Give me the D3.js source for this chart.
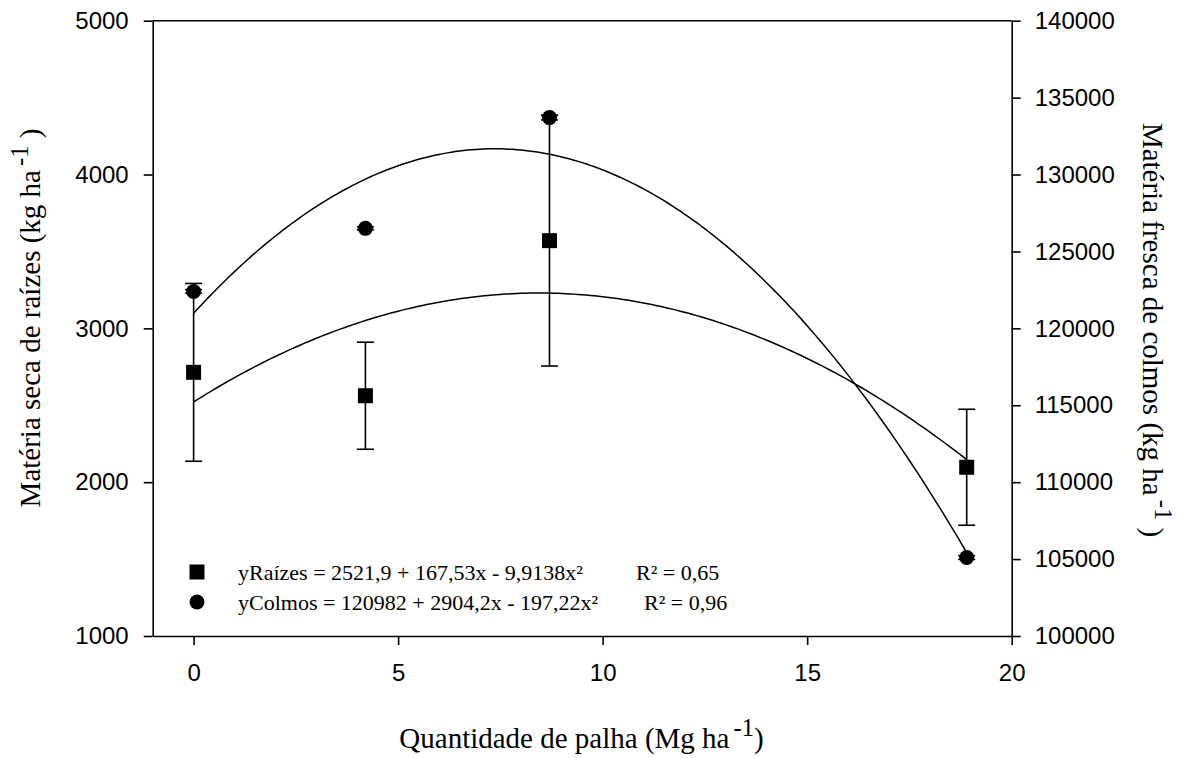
<!DOCTYPE html>
<html><head><meta charset="utf-8">
<script src="https://cdn.jsdelivr.net/npm/d3@7"></script>
<style>
html,body{margin:0;padding:0;background:#fff;}
svg{display:block;}
.tick text{font-family:"Liberation Sans",Arial,sans-serif;font-size:24px;fill:#000;}
.ttl{font-family:"Liberation Serif","Times New Roman",serif;fill:#000;}
</style></head>
<body>
<script>
// ---- data ----
const palha = [0, 4.2, 8.7, 18.9];
const raizes = [2714, 2562, 3570, 2097];
const raizesErr = [578, 348, 815, 377];
const colmos = [122400, 126500, 133700, 105100];
const colmosErr = [120, 100, 150, 120];
const coefRaizes = [2521.9, 167.53, -9.9138];
const coefColmos = [120982, 2904.2, -197.22];
const xTicks = [0, 5, 10, 15, 20];
const yLeftTicks = [1000, 2000, 3000, 4000, 5000];
const yRightTicks = [100000, 105000, 110000, 115000, 120000, 125000, 130000, 135000, 140000];
const legendRows = [
  {sym: "square", eq: "yRaízes = 2521,9 + 167,53x - 9,9138x²", r2: "R² = 0,65"},
  {sym: "circle", eq: "yColmos = 120982 + 2904,2x - 197,22x²", r2: "R² = 0,96"}
];

const W = 1191, H = 758;
const L = 152.7, R = 1011.7, T = 20.7, B = 636;
const svg = d3.select("body").append("svg").attr("width", W).attr("height", H);

const x = d3.scaleLinear().domain([-1, 20]).range([L, R]);
const yL = d3.scaleLinear().domain([1000, 5000]).range([B, T]);
const yR = d3.scaleLinear().domain([100000, 140000]).range([B, T]);

const stroke = "#000";
// axes
const ax = svg.append("g").attr("transform", `translate(0,${B})`)
  .call(d3.axisBottom(x).tickValues(xTicks).tickSize(9).tickSizeOuter(0).tickPadding(19).tickFormat(d3.format("d")));
const ayl = svg.append("g").attr("transform", `translate(${L},0)`)
  .call(d3.axisLeft(yL).tickValues(yLeftTicks).tickSize(9).tickSizeOuter(0).tickPadding(15).tickFormat(d3.format("d")));
const ayr = svg.append("g").attr("transform", `translate(${R},0)`)
  .call(d3.axisRight(yR).tickValues(yRightTicks).tickSize(9).tickSizeOuter(0).tickPadding(14).tickFormat(d3.format("d")));
[ax, ayl, ayr].forEach(g => {
  g.select(".domain").attr("stroke", stroke).attr("stroke-width", 1.6);
  g.selectAll(".tick line").attr("stroke", stroke).attr("stroke-width", 1.6);
  g.selectAll(".tick text").attr("fill", "#000");
});
// top line
svg.append("line").attr("x1", L).attr("x2", R).attr("y1", T).attr("y2", T)
  .attr("stroke", stroke).attr("stroke-width", 1.6);

// fitted curves
const quad = (c, v) => c[0] + c[1] * v + c[2] * v * v;
const xs = d3.range(0, 18.9 + 1e-9, 0.1);
const lineL = d3.line().x(d => x(d)).y(d => yL(quad(coefRaizes, d)));
const lineR = d3.line().x(d => x(d)).y(d => yR(quad(coefColmos, d)));
svg.append("path").attr("d", lineL(xs)).attr("fill", "none").attr("stroke", stroke).attr("stroke-width", 1.5);
svg.append("path").attr("d", lineR(xs)).attr("fill", "none").attr("stroke", stroke).attr("stroke-width", 1.5);

// error bars
const cap = 8.5;
function errBars(vals, errs, ys) {
  const g = svg.append("g").attr("stroke", stroke).attr("stroke-width", 1.6);
  palha.forEach((p, i) => {
    const cx = x(p), y1 = ys(vals[i] - errs[i]), y2 = ys(vals[i] + errs[i]);
    g.append("line").attr("x1", cx).attr("x2", cx).attr("y1", y1).attr("y2", y2);
    g.append("line").attr("x1", cx - cap).attr("x2", cx + cap).attr("y1", y1).attr("y2", y1);
    g.append("line").attr("x1", cx - cap).attr("x2", cx + cap).attr("y1", y2).attr("y2", y2);
  });
}
errBars(raizes, raizesErr, yL);
errBars(colmos, colmosErr, yR);

// markers
const ms = 15;
svg.append("g").selectAll("rect").data(palha).join("rect")
  .attr("x", (d) => x(d) - ms / 2).attr("y", (d, i) => yL(raizes[i]) - ms / 2)
  .attr("width", ms).attr("height", ms).attr("fill", "#000");
svg.append("g").selectAll("circle").data(palha).join("circle")
  .attr("cx", d => x(d)).attr("cy", (d, i) => yR(colmos[i])).attr("r", ms / 2).attr("fill", "#000");

// legend
const lg = svg.append("g");
legendRows.forEach((row, i) => {
  const cy = 572 + i * 30;
  if (row.sym === "square") lg.append("rect").attr("x", 197 - 7.5).attr("y", cy - 7.5).attr("width", 15).attr("height", 15).attr("fill", "#000");
  else lg.append("circle").attr("cx", 197).attr("cy", cy).attr("r", 7.5).attr("fill", "#000");
  lg.append("text").attr("class", "ttl").attr("x", 238).attr("y", cy + 8).attr("font-size", 22).text(row.eq);
  lg.append("text").attr("class", "ttl").attr("x", 636 + (i === 1 ? 8 : 0)).attr("y", cy + 8).attr("font-size", 22).text(row.r2);
});

// axis titles
function titleWithSup(g, main, sup, tail, size) {
  const t = g.append("text").attr("class", "ttl").attr("font-size", size).attr("text-anchor", "middle");
  t.append("tspan").text(main);
  t.append("tspan").attr("dx", 4).attr("dy", -0.42 * size).attr("font-size", size * 0.85).text(sup);
  t.append("tspan").attr("dy", 0.42 * size).text(tail);
  return t;
}
const fs = 29;
const gx = svg.append("g").attr("transform", `translate(581.5,748)`);
titleWithSup(gx, "Quantidade de palha (Mg ha", "-1", ")", fs);
const gl = svg.append("g").attr("transform", `translate(40,318) rotate(-90)`);
titleWithSup(gl, "Matéria seca de raízes (kg ha", "-1", " )", fs);
const gr = svg.append("g").attr("transform", `translate(1143,330) rotate(90)`);
titleWithSup(gr, "Matéria fresca de colmos (kg ha", "-1", " )", fs);
</script>
</body></html>
